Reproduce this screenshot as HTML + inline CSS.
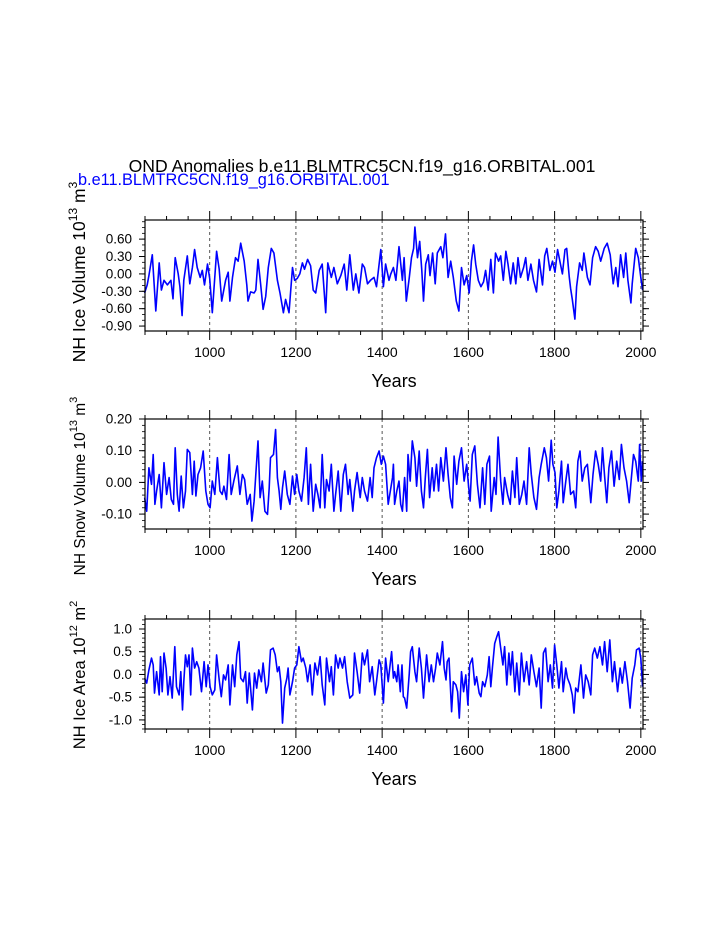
<!DOCTYPE html>
<html><head><meta charset="utf-8"><style>
html,body{margin:0;padding:0;background:#fff;}
svg{display:block;font-family:"Liberation Sans",Arial,sans-serif;}
</style></head><body>
<svg id="chart" width="723" height="935" viewBox="0 0 723 935" xmlns="http://www.w3.org/2000/svg">
<rect width="723" height="935" fill="#fff"/>
<text x="362" y="172" font-size="17.6" text-anchor="middle" fill="#000">OND Anomalies b.e11.BLMTRC5CN.f19_g16.ORBITAL.001</text>
<text x="78" y="185" font-size="16.3" fill="#0000ff">b.e11.BLMTRC5CN.f19_g16.ORBITAL.001</text>
<g id="plots"></g>
</svg>
<script>
const xTicks = [1000,1200,1400,1600,1800,2000];
const p1Years = [849,855,859,867,875,883,888,894,902,910,915,920,927,931,936,940,948,954,960,965,971,978,983,988,995,1000,1006,1016,1022,1028,1037,1043,1047,1053,1060,1066,1072,1080,1086,1089,1095,1103,1107,1112,1118,1124,1130,1136,1143,1149,1157,1163,1171,1176,1184,1192,1197,1203,1209,1215,1220,1227,1234,1240,1246,1254,1261,1269,1274,1282,1288,1296,1304,1312,1318,1325,1333,1339,1346,1354,1359,1366,1373,1381,1387,1397,1403,1408,1416,1420,1426,1432,1439,1447,1451,1456,1463,1468,1473,1476,1482,1487,1492,1496,1501,1507,1511,1517,1523,1528,1536,1541,1547,1553,1559,1565,1572,1578,1584,1590,1596,1602,1607,1612,1617,1623,1629,1635,1640,1646,1652,1658,1663,1670,1675,1681,1687,1692,1698,1704,1710,1715,1721,1728,1733,1738,1745,1751,1758,1764,1772,1777,1782,1789,1795,1801,1807,1813,1818,1824,1828,1834,1837,1841,1847,1851,1858,1864,1868,1876,1882,1888,1895,1901,1907,1915,1922,1929,1936,1942,1947,1953,1960,1965,1970,1977,1980,1988,1994,2000,2004];
const p1Values = [-0.33,-0.19,-0.03,0.33,-0.64,0.19,-0.28,-0.11,-0.19,-0.11,-0.43,0.28,0,-0.22,-0.72,-0.11,0.31,-0.17,0.11,0.42,0.11,-0.06,0.06,-0.19,0.17,-0.08,-0.67,0.39,0.08,-0.47,-0.11,0.03,-0.47,-0.06,0.28,0.22,0.53,0.22,-0.19,-0.47,-0.31,-0.33,-0.28,0.25,-0.17,-0.61,-0.39,0.11,0.44,0.36,-0.11,-0.33,-0.67,-0.44,-0.67,0.11,-0.11,-0.08,0,0.19,0.08,0.25,0.14,-0.28,-0.33,0.06,0.17,-0.67,0.19,-0.06,0.11,-0.17,-0.03,0.17,-0.28,0.33,-0.28,0,-0.33,0.17,0.11,-0.17,-0.11,-0.06,-0.22,0.42,-0.22,0.17,-0.11,0,0.11,-0.11,0.47,-0.11,0.28,-0.47,-0.06,0.28,0.44,0.81,0.28,0.56,0.06,-0.47,0.17,0.33,-0.03,0.36,-0.17,0.36,0.47,0.28,0.69,-0.06,0.22,-0.06,-0.47,-0.64,0.11,-0.19,-0.03,-0.33,0.22,0.5,0.17,-0.11,-0.22,-0.14,0.06,-0.28,0.25,-0.33,0.36,0.22,0.31,-0.11,0.39,0.17,-0.17,0.19,-0.17,0.28,-0.06,0.11,0.28,-0.11,0.17,-0.11,-0.31,0.25,-0.19,0.31,0.44,0.06,0.22,0.03,0.42,0.19,0,0.42,0.44,-0.06,-0.25,-0.44,-0.78,-0.22,0.19,0.06,0.36,-0.06,-0.19,0.28,0.47,0.39,0.22,0.44,0.53,0.33,-0.17,0.11,-0.22,0.33,-0.06,0.36,-0.11,-0.5,-0.17,0.44,0.28,-0.06,-0.28];
const p2Years = [849,854,859,865,869,873,877,883,888,894,900,906,911,916,920,925,929,934,939,944,948,954,960,964,968,973,979,985,991,996,1001,1006,1012,1018,1024,1029,1033,1039,1045,1050,1056,1064,1070,1076,1081,1087,1094,1098,1103,1107,1112,1117,1122,1128,1134,1138,1141,1148,1153,1157,1161,1165,1169,1174,1180,1186,1192,1197,1202,1207,1213,1219,1224,1229,1234,1240,1246,1251,1256,1261,1267,1271,1277,1282,1288,1292,1298,1304,1310,1315,1321,1325,1332,1336,1342,1349,1354,1359,1366,1372,1377,1381,1387,1393,1398,1403,1408,1414,1424,1426,1429,1434,1439,1443,1447,1452,1457,1460,1465,1470,1476,1480,1486,1491,1496,1500,1505,1510,1516,1520,1526,1531,1536,1542,1548,1553,1558,1563,1567,1573,1578,1584,1590,1596,1600,1604,1609,1615,1621,1627,1633,1638,1643,1649,1653,1660,1664,1669,1675,1680,1684,1691,1697,1702,1708,1712,1718,1724,1729,1735,1741,1746,1752,1758,1764,1769,1776,1781,1786,1792,1796,1801,1805,1810,1816,1820,1826,1831,1837,1844,1849,1854,1859,1864,1870,1876,1884,1889,1895,1901,1907,1911,1916,1921,1926,1932,1938,1944,1950,1955,1961,1967,1973,1978,1983,1988,1994,1997,2001,2004];
const p2Values = [-0.048,-0.091,0.046,-0.006,0.088,-0.069,-0.027,0.025,-0.08,0.062,-0.038,0.015,-0.054,-0.069,0.109,-0.038,-0.091,0.02,-0.08,-0.027,0.104,0.094,-0.038,0.067,-0.043,0.025,0.046,0.099,-0.027,-0.069,-0.08,0.004,-0.038,0.078,-0.027,-0.038,-0.012,-0.054,0.088,-0.038,0.004,0.052,-0.038,0.025,0.009,-0.069,-0.038,-0.122,-0.059,0.025,0.131,-0.048,0.004,-0.091,-0.101,-0.017,0.078,0.088,0.167,0.015,-0.027,-0.085,-0.017,0.036,-0.038,-0.069,0.02,-0.038,0.025,-0.027,-0.059,0.015,0.109,-0.069,0.057,-0.091,-0.006,-0.038,-0.08,0.088,-0.08,0.009,-0.027,0.057,-0.091,-0.038,0.036,-0.091,0.025,0.057,-0.038,0.009,-0.091,-0.027,0.031,-0.048,0.015,-0.027,-0.059,0.015,-0.048,0.046,0.078,0.099,0.057,0.083,0.057,-0.069,0.015,0.057,-0.069,-0.027,0.004,-0.069,-0.091,0.015,-0.091,0.088,0.004,0.131,0.078,-0.012,0.099,-0.027,-0.08,0.015,0.104,-0.048,0.046,-0.027,0.057,-0.027,0.078,0.004,0.109,0.025,-0.048,-0.08,0.083,-0.006,0.067,0.109,0.004,0.057,-0.006,-0.059,0.088,0.115,-0.006,-0.08,0.046,-0.069,0.057,0.083,-0.091,0.015,-0.038,0.143,0.004,-0.069,0.015,-0.038,-0.069,0.036,-0.048,0.078,-0.069,-0.038,0.004,-0.069,0.109,0.025,-0.048,-0.085,0.015,0.057,0.109,0.078,0.004,0.133,0.057,0.031,-0.08,-0.027,0.067,-0.064,0.004,0.057,-0.038,-0.027,-0.08,0.067,0.099,0.004,0.046,0.057,-0.064,0.025,0.099,0.057,0.004,0.109,0.02,-0.064,0.046,0.099,-0.012,0.067,0.009,0.12,0.046,0.004,-0.064,0.015,0.088,0.067,0.004,0.12,0.004,0.067];
const p3Years = [849,854,859,865,869,872,877,883,886,890,894,899,903,908,913,919,923,929,933,937,940,944,948,952,956,960,965,970,975,981,987,992,996,1001,1006,1012,1016,1022,1027,1032,1037,1043,1047,1053,1058,1063,1068,1072,1078,1083,1087,1092,1099,1104,1109,1114,1120,1124,1131,1136,1141,1147,1152,1157,1161,1165,1169,1174,1179,1182,1186,1192,1197,1202,1207,1213,1217,1223,1227,1233,1238,1244,1250,1256,1261,1267,1271,1278,1282,1287,1292,1298,1302,1308,1313,1319,1325,1332,1336,1342,1348,1354,1359,1366,1371,1377,1383,1387,1393,1397,1403,1408,1414,1422,1426,1429,1434,1437,1442,1446,1449,1452,1457,1463,1466,1470,1476,1480,1486,1491,1496,1500,1503,1509,1514,1519,1524,1528,1534,1540,1544,1548,1551,1555,1561,1565,1571,1575,1579,1584,1589,1594,1599,1603,1609,1615,1619,1625,1629,1633,1638,1644,1648,1652,1656,1661,1666,1670,1675,1680,1684,1689,1694,1698,1702,1708,1712,1718,1723,1729,1735,1741,1746,1752,1758,1764,1769,1774,1779,1785,1790,1795,1800,1805,1810,1816,1820,1826,1830,1836,1841,1845,1849,1854,1861,1867,1872,1878,1884,1888,1893,1899,1905,1911,1916,1922,1928,1934,1939,1946,1952,1957,1963,1969,1975,1980,1986,1990,1996,2000,2004];
const p3Values = [-0.08,-0.19,0.1,0.36,0.21,-0.41,0.06,-0.45,0.39,-0.38,0.47,0.14,-0.45,-0.05,-0.52,0.61,-0.27,-0.45,0.06,-0.78,-0.16,0.43,0.17,0.43,-0.45,0.58,0.14,0.28,0.14,-0.38,0.28,-0.27,0.21,-0.27,-0.45,-0.34,0.43,-0.12,-0.49,-0.01,-0.12,0.21,-0.67,0.21,-0.27,0.43,0.72,-0.08,-0.16,0.06,-0.63,0.03,-0.78,0.03,-0.3,0.1,-0.16,0.25,-0.41,-0.23,0.54,0.58,0.43,0.06,0.17,-0.16,-1.07,-0.3,-0.08,0.14,-0.45,-0.16,0.14,0.21,0.61,0.28,0.36,0.14,-0.16,0.21,-0.45,0.25,-0.01,0.39,-0.23,-0.67,0.36,-0.16,0.17,-0.45,0.43,0.14,0.36,0.14,0.39,-0.16,-0.52,-0.45,0.47,0.06,-0.41,0.47,0.21,0.54,-0.16,0.17,-0.45,-0.16,0.32,0.21,-0.63,0.36,-0.16,0.5,-0.08,0.06,-0.16,0.21,-0.38,0.21,-0.49,-0.52,-0.74,0.03,0.5,0.61,0.06,-0.16,0.58,0.14,-0.52,0.03,0.43,-0.16,0.21,-0.16,0.14,0.47,0.21,0.72,0.14,-0.12,0.28,0.36,-0.82,-0.16,-0.23,-0.38,-0.96,0.06,-0.38,-0.01,-0.67,0.21,0.36,-0.23,-0.05,-0.41,-0.49,-0.16,-0.27,-0.01,0.39,-0.27,0.17,0.68,0.83,0.94,0.58,0.21,0.61,-0.23,0.47,-0.01,0.5,-0.38,0.25,-0.45,0.47,-0.16,0.28,-0.23,0.43,0.06,-0.27,0.14,-0.74,0.47,0.58,-0.16,0.21,-0.3,0.65,0.21,-0.3,0.28,-0.38,0.14,-0.08,-0.23,-0.45,-0.85,-0.3,-0.38,0.21,-0.52,-0.01,-0.16,-0.45,0.43,0.58,0.36,0.61,0.21,0.72,0.06,0.76,-0.16,0.28,-0.38,0.14,-0.19,0.28,-0.16,-0.74,-0.08,0.21,0.54,0.58,0.36,-0.27];
const p1YTicks = [0.6,0.3,0,-0.3,-0.6,-0.9];
const p1YLabels = ["0.60","0.30","0.00","-0.30","-0.60","-0.90"];
const p2YTicks = [0.2,0.1,0,-0.1];
const p2YLabels = ["0.20","0.10","0.00","-0.10"];
const p3YTicks = [1,0.5,0,-0.5,-1];
const p3YLabels = ["1.0","0.5","0.0","-0.5","-1.0"];

const NS="http://www.w3.org/2000/svg";
const root=document.getElementById('plots');
function mk(tag,attrs,parent){const e=document.createElementNS(NS,tag);for(const k in attrs)e.setAttribute(k,attrs[k]);parent.appendChild(e);return e;}
const X0=145,X1=643,YR0=850,YR1=2005;
function xs(yr){return X0+(yr-YR0)/(YR1-YR0)*(X1-X0);}

const panels=[
 {top:220,bot:331,ymin:-0.985,ymax:0.93,years:p1Years,vals:p1Values,ticks:p1YTicks,labels:p1YLabels,minor:0.1,name:'ice-volume',title:['NH Ice Volume 10','13',' m','3'],tfs:17.5,tcy:272},
 {top:419,bot:529,ymin:-0.147,ymax:0.2,years:p2Years,vals:p2Values,ticks:p2YTicks,labels:p2YLabels,minor:0.02,name:'snow-volume',title:['NH Snow Volume 10','13',' m','3'],tfs:15.5,tcy:486},
 {top:619,bot:729,ymin:-1.2,ymax:1.22,years:p3Years,vals:p3Values,ticks:p3YTicks,labels:p3YLabels,minor:0.1,name:'ice-area',title:['NH Ice Area 10','12',' m','2'],tfs:16.5,tcy:675}
];
panels.forEach(p=>{
  const g=mk('g',{},root);
  
  
  const ys=v=>p.bot-(v-p.ymin)/(p.ymax-p.ymin)*(p.bot-p.top);
  xTicks.forEach(t=>{
    const l=mk('line',{x1:xs(t),x2:xs(t),y1:p.top,y2:p.bot,stroke:'#555','stroke-width':1,'stroke-dasharray':'3,3'},g);
    
    
  });
  let d='';
  p.years.forEach((yr,i)=>{d+=(i?'L':'M')+xs(yr).toFixed(1)+','+ys(p.vals[i]).toFixed(1);});
  const path=mk('path',{d:d,fill:'none',stroke:'#0000ff','stroke-width':1.6,'stroke-linejoin':'round'},g);
  
  
  const fr=mk('rect',{x:X0,y:p.top,width:X1-X0,height:p.bot-p.top,fill:'none',stroke:'#000','stroke-width':1.2},g);
  
  
  for(let yr=850;yr<=2000;yr+=50){
    const major=(yr%200===0);const len=major?9:4;
    mk('line',{x1:xs(yr),x2:xs(yr),y1:p.top,y2:p.top-len,stroke:'#000','stroke-width':1},g);
    mk('line',{x1:xs(yr),x2:xs(yr),y1:p.bot,y2:p.bot+len,stroke:'#000','stroke-width':1},g);
  }
  xTicks.forEach(t=>{
    const tx=mk('text',{x:xs(t),y:p.bot+26,'font-size':14,'text-anchor':'middle',fill:'#000'},g);
    tx.textContent=String(t);
    
    
  });
  const n0=Math.ceil(p.ymin/p.minor-1e-6),n1=Math.floor(p.ymax/p.minor+1e-6);
  for(let n=n0;n<=n1;n++){const y=ys(n*p.minor);
    mk('line',{x1:X0,x2:X0-3,y1:y,y2:y,stroke:'#000','stroke-width':0.8},g);
    mk('line',{x1:X1,x2:X1+3,y1:y,y2:y,stroke:'#000','stroke-width':0.8},g);}
  p.ticks.forEach((t,i)=>{const y=ys(t);
    mk('line',{x1:X0,x2:X0-6,y1:y,y2:y,stroke:'#000','stroke-width':1},g);
    mk('line',{x1:X1,x2:X1+6,y1:y,y2:y,stroke:'#000','stroke-width':1},g);
    const tx=mk('text',{x:132,y:y+4.5,'font-size':13.5,'text-anchor':'end',fill:'#000'},g);
    tx.textContent=p.labels[i];
    
    
  });
  const xt=mk('text',{x:394,y:p.bot+56,'font-size':18,'text-anchor':'middle',fill:'#000'},g);
  xt.textContent='Years';
  
  
  const yt=mk('text',{x:0,y:0,'font-size':p.tfs,'text-anchor':'middle',fill:'#000',transform:'translate(85,'+p.tcy+') rotate(-90)'},g);
  
  
  const parts=p.title;
  const sub=Math.round(p.tfs*0.68);
  const a=mk('tspan',{},yt);a.textContent=parts[0];
  const b=mk('tspan',{'font-size':sub,dy:-8},yt);b.textContent=parts[1];
  const c=mk('tspan',{dy:8},yt);c.textContent=parts[2];
  const e=mk('tspan',{'font-size':sub,dy:-8},yt);e.textContent=parts[3];
});
</script>
</body></html>
